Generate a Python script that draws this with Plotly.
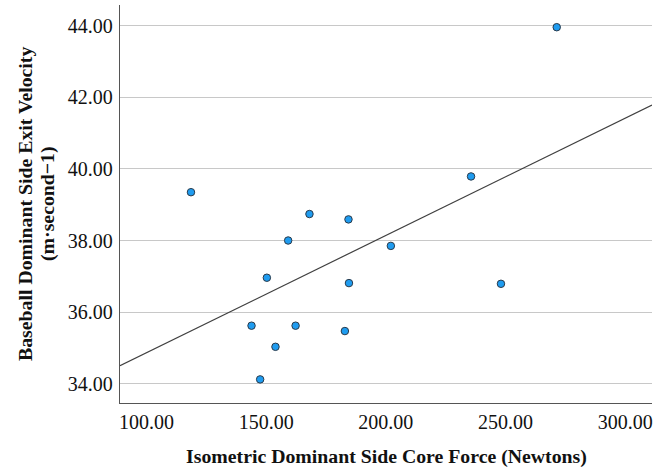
import numpy as np
import plotly.graph_objects as go

core_force = [118.6, 168.1, 184.4, 159.2, 202.1, 150.3, 184.6, 143.9, 162.3,
              182.9, 153.9, 147.5, 235.6, 248.1, 271.4]
exit_velocity = [39.35, 38.74, 38.59, 38.00, 37.85, 36.96, 36.81, 35.62, 35.62,
                 35.47, 35.03, 34.12, 39.79, 36.79, 43.96]
x_ticks = [100, 150, 200, 250, 300]
y_ticks = [34, 36, 38, 40, 42, 44]
x_range = [88.95, 311.2]
y_range = [33.46, 44.58]
x_title = "Isometric Dominant Side Core Force (Newtons)"
y_title_lines = ["Baseball Dominant Side Exit Velocity", "(m·second−1)"]

slope, intercept = np.polyfit(core_force, exit_velocity, 1)
fit_x = np.array(x_range)
fit_y = slope * fit_x + intercept

font_family = "Liberation Serif, Times New Roman, serif"

fig = go.Figure()
fig.add_trace(go.Scatter(
    x=fit_x, y=fit_y, mode="lines",
    line=dict(color="#404040", width=1.2),
    hoverinfo="skip", showlegend=False,
))
fig.add_trace(go.Scatter(
    x=core_force, y=exit_velocity, mode="markers",
    marker=dict(size=7.5, color="#1f9cf0", line=dict(color="#2a3a4a", width=1)),
    showlegend=False,
))

fig.update_layout(
    width=668, height=468,
    margin=dict(l=120, r=16, t=5, b=65, autoexpand=False),
    paper_bgcolor="white", plot_bgcolor="white",
    font=dict(family=font_family, color="#000000"),
    xaxis=dict(
        range=x_range, tickvals=x_ticks, automargin=False,
        ticktext=[f"{v:.2f}" for v in x_ticks],
        showgrid=False, zeroline=False,
        showline=True, linecolor="#555555", linewidth=1.3,
        ticks="", ticklabelstandoff=1,
        tickfont=dict(size=20, family=font_family, color="#111"),
    ),
    yaxis=dict(
        range=y_range, tickvals=y_ticks, automargin=False,
        ticktext=[f"{v:.2f}" for v in y_ticks],
        showgrid=True, gridcolor="#c8c8c8", gridwidth=1.2, zeroline=False,
        showline=True, linecolor="#555555", linewidth=1.3,
        ticks="", ticklabelstandoff=2,
        tickfont=dict(size=20, family=font_family, color="#111"),
    ),
)

fig.add_annotation(
    text=f"<b>{x_title}</b>", xref="paper", yref="paper", x=0.5, y=0,
    xanchor="center", yanchor="middle", yshift=-53, showarrow=False,
    font=dict(size=19.8, family=font_family, color="#111"),
)
for shift, line in zip([-95, -73], y_title_lines):
    fig.add_annotation(
        text=f"<b>{line}</b>", xref="paper", yref="paper", x=0, y=0.5,
        xanchor="center", yanchor="middle", xshift=shift, textangle=-90,
        showarrow=False, font=dict(size=19.8, family=font_family, color="#111"),
    )

fig.write_html(
    "out.html",
    config={"displayModeBar": False},
    post_script="document.body.style.margin='0';document.body.style.padding='0';",
)
